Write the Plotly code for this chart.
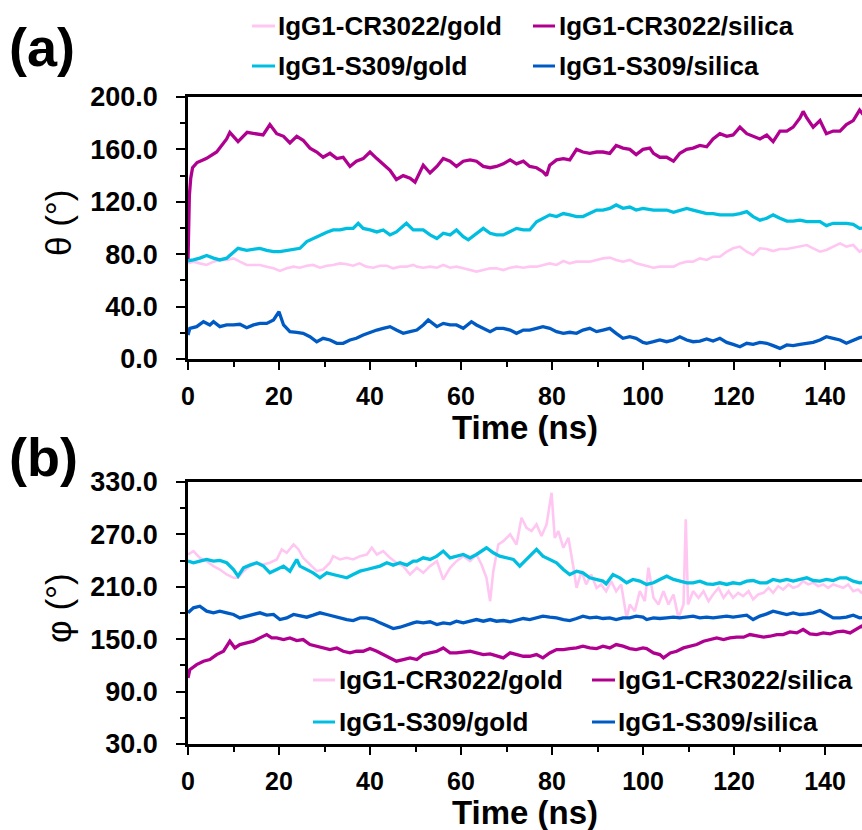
import plotly.graph_objects as go

# ---------------- data: panel (a) theta (deg) vs time (ns) ----------------
t_theta_cr_gold = [0, 1.2, 2.6, 4.1, 5.6, 7, 8.5, 10, 11.4, 12.9,
                   14.4, 15.8, 17.3, 18.8, 20.2, 21.7, 23.2, 24.6, 26.1, 27.5,
                   29, 30.5, 31.9, 33.4, 34.9, 36.3, 37.7, 39.2, 40.7, 42.2,
                   43.7, 45.1, 46.6, 48, 49.5, 50.3, 51.7, 53.2, 54.7, 56.1,
                   57.6, 59, 60.5, 62, 63.4, 64.9, 66.4, 67.8, 69.3, 70.8,
                   72.2, 73.7, 75.1, 76.6, 78, 79.5, 81, 82.5, 83.9, 85.4,
                   86.8, 88.3, 89.8, 91.2, 92.7, 94.1, 95.6, 97.1, 98.5, 100,
                   100.8, 102.3, 103.7, 105.2, 106.7, 108.1, 109.6, 111, 112.5, 114,
                   115.4, 116.9, 118.4, 119.8, 121.3, 122.8, 124.2, 125.7, 127.2, 128.6,
                   130.1, 131.6, 133, 134.5, 136, 137.4, 138.9, 140.3, 141.8, 143.3,
                   144.7, 146.2, 147.6, 148.5]
theta_cr_gold = [73, 74.3, 73, 71.8, 74.3, 75.6, 75.6, 76.8, 74.3, 71.8,
                 71.8, 71.8, 70.5, 69.2, 67.2, 69.2, 70.5, 69.7, 71.2, 71.8,
                 69.7, 71.2, 71.8, 73, 72.3, 71.2, 73, 70.5, 69.7, 71.2,
                 71.2, 69.2, 70.5, 70.5, 71.8, 70.5, 69.7, 70.5, 69.7, 71.8,
                 69.7, 70.5, 69.2, 67.9, 66.7, 67.9, 69.2, 69.2, 67.9, 69.7,
                 70.5, 69.7, 70.5, 70.5, 71.8, 73, 71.8, 74.8, 73, 74.3,
                 74.3, 74.3, 75.6, 76.8, 77.4, 75.6, 74.3, 75.6, 73, 71.8,
                 71.2, 69.7, 70.5, 70.5, 70.5, 73, 74.3, 74.3, 76.8, 75.6,
                 78.1, 78.1, 81.9, 84.5, 85.8, 81.9, 79.4, 84.5, 84, 82.4,
                 84, 84, 85, 85.8, 87, 84.5, 81.9, 83.2, 85.8, 88.3,
                 85.8, 87, 81.9, 84]

t_theta_cr_silica = [0, 0.3, 0.6, 1, 2, 4, 6.3, 8.5, 9.2, 11,
                     13, 15, 16.5, 18, 19.5, 21, 22.4, 23.9, 25.3, 26.8,
                     28.3, 29.7, 31.2, 32.7, 34.1, 35.6, 37, 38.5, 40, 41.5,
                     42.9, 44.4, 45.8, 47.3, 48.8, 49.9, 51.7, 53.2, 54.7, 56.1,
                     57.6, 59, 60.5, 62, 63.4, 64.9, 66.4, 67.8, 69.3, 70.8,
                     72.2, 73.7, 75.1, 76.6, 78, 78.8, 79.5, 81, 82.5, 83.9,
                     85.4, 86.8, 88.3, 89.8, 91.2, 92.7, 94.1, 95.6, 97.1, 98.5,
                     100, 101.5, 102.3, 103.7, 105.2, 106.7, 108.1, 109.6, 111, 112.5,
                     114, 115.4, 116.9, 118.4, 119.8, 121.3, 122.8, 124.2, 125.7, 127.2,
                     128.6, 130.1, 131.6, 133, 134.5, 135.2, 136, 137.4, 138.9, 140.3,
                     141.8, 143.3, 144.7, 146.2, 147.6, 148.5]
theta_cr_silica = [75, 125, 138, 146, 150, 153, 158, 168, 173, 166,
                   173, 172, 171, 179, 172, 170, 165, 170, 167, 161,
                   158, 154, 157, 153, 154, 147, 151, 153, 158, 153,
                   149, 144, 137, 140, 138, 135, 148, 142, 147, 153,
                   151, 147, 151, 152, 151, 147, 146, 147, 149, 152,
                   149, 151, 147, 146, 143, 140, 148, 152, 153, 152,
                   160, 158, 157, 158, 158, 157, 163, 161, 160, 156,
                   160, 161, 157, 154, 154, 151, 157, 160, 161, 163,
                   162, 168, 172, 170, 171, 177, 172, 170, 168, 171,
                   166, 174, 174, 177, 184, 189, 184, 177, 182, 172,
                   174, 174, 179, 182, 190, 186]

t_theta_s309_gold = [0, 1.2, 2.6, 4.1, 5.6, 7, 8.5, 10, 11, 12.9,
                     14.4, 15.8, 17.3, 18.8, 20.2, 21.7, 23.2, 24.6, 26.1, 27.5,
                     29, 30.5, 31.9, 33.4, 34.9, 36.3, 37.4, 38.5, 40, 41.5,
                     42.9, 44.4, 45.8, 48, 49.5, 51.7, 53.2, 54.7, 56.1, 57.6,
                     59, 60.5, 61.6, 63.4, 64.9, 66.4, 67.8, 69.3, 70.8, 72.2,
                     73.7, 75.1, 76.6, 78, 79.5, 81, 82.5, 83.9, 85.4, 86.8,
                     88.3, 89.8, 91.2, 92.7, 94.1, 95.6, 97.1, 98.5, 100, 100.8,
                     102.3, 103.7, 105.2, 106.7, 108.1, 109.6, 111, 112.5, 114, 115.4,
                     116.9, 118.4, 119.8, 121.3, 122.8, 124.2, 125.7, 127.2, 128.6, 130.1,
                     131.6, 133, 134.5, 136, 137.4, 138.9, 140.3, 141.8, 143.3, 144.7,
                     146.2, 147.6, 148.5]
theta_s309_gold = [75, 75.6, 77, 79, 77, 75.6, 77, 82, 84.5, 83,
                   84, 84.5, 83, 82, 82, 83, 84, 84.5, 89.6, 92,
                   94.7, 96.7, 98.5, 98.5, 99.7, 99.7, 103.6, 99.7, 98.5, 97,
                   98.5, 94.7, 97, 103.6, 98.5, 98.5, 94.7, 92, 96, 94.7,
                   98.5, 93.4, 91, 96, 99.7, 96, 94.7, 94.7, 97, 99.7,
                   98.5, 98.5, 104.8, 107, 110, 108.7, 111, 110, 108.7, 108.7,
                   111, 113.7, 113.7, 115, 117.6, 115, 116, 113.7, 115, 114.5,
                   113.7, 113.7, 113.7, 112, 113.7, 115, 113.7, 112.5, 111, 111,
                   110, 110, 110, 111, 112.5, 108.7, 106, 107.4, 110, 107.4,
                   105.3, 105.3, 106, 104.8, 104.8, 104.8, 101.8, 103.6, 103.6, 103.6,
                   102.8, 99.7, 100]

t_theta_s309_silica = [0, 0.4, 1.9, 3.4, 4.8, 5.6, 7, 8.5, 10, 11.4,
                       12.9, 14.4, 15.8, 17.3, 18.8, 20, 21, 22.4, 23.9, 25.3,
                       26.8, 28.3, 29.7, 31.2, 32.7, 34.1, 35.6, 37, 38.5, 40,
                       41.5, 42.9, 44.4, 45.8, 47.3, 48.8, 50.3, 51.7, 52.8, 54.7,
                       56.1, 57.6, 59, 60.5, 62.3, 63.4, 64.9, 66.4, 67.8, 69.3,
                       70.8, 72.2, 73.7, 75.1, 76.6, 78, 79.5, 81, 82.5, 83.9,
                       85.4, 86.8, 88.3, 89.8, 91.2, 92.7, 94.1, 95.6, 97.1, 98.5,
                       100, 100.8, 102.3, 103.7, 105.2, 106.7, 108.1, 109.6, 111, 112.5,
                       114, 115.4, 116.9, 118.4, 119.8, 121.3, 122.8, 124.2, 125.7, 127.2,
                       128.6, 130.1, 131.6, 133, 134.5, 136, 137.4, 138.9, 140.3, 141.8,
                       143.3, 144.7, 146.2, 147.6, 148.5]
theta_s309_silica = [18.3, 23.4, 24.7, 28.5, 26, 28.5, 24.7, 26, 26, 26.5,
                     23.9, 26, 27.2, 27.2, 29.8, 36.1, 26, 20.9, 20.4, 19.6,
                     17, 13.2, 15.8, 14.5, 12, 12, 14.5, 15.8, 18.3, 20.4,
                     22.1, 23.4, 24.7, 22.1, 19.6, 20.9, 22.1, 26, 29.8, 24.7,
                     27.2, 26, 26, 23.4, 28.5, 26, 23.4, 20.9, 23.4, 23.4,
                     22.1, 19.6, 22.1, 22.1, 23.4, 24.7, 23.4, 20.9, 19.6, 20.4,
                     19.6, 22.1, 23.4, 20.9, 22.1, 23.4, 19.6, 15.8, 17, 15.8,
                     12.7, 12, 13.2, 14.5, 13.2, 14.5, 17, 14.5, 13.2, 13.7,
                     15.3, 13.7, 15.8, 12.7, 11.2, 9.4, 12, 11.2, 12.7, 12,
                     10.2, 8.1, 10.7, 10.2, 11.2, 12, 12.7, 14.5, 17, 15.8,
                     14.5, 12, 14.5, 16.3, 17]

# ---------------- data: panel (b) phi (deg) vs time (ns) ----------------
t_phi_cr_gold = [0, 1.2, 2.6, 4.1, 5.6, 7, 8.5, 10, 11, 12.2,
                 13.6, 15.1, 16.6, 18, 19.5, 20.6, 21.7, 23.2, 24.3, 25.3,
                 26.8, 28.3, 29.7, 31.2, 31.9, 33.4, 34.9, 36.3, 37.8, 39.3,
                 40.4, 41.5, 42.9, 44.4, 45.8, 47.3, 48.8, 50.3, 51.7, 53.2,
                 54.7, 56.1, 57.6, 59, 60.5, 62, 63.4, 64.5, 65.6, 66.4,
                 67.1, 68.2, 69.3, 70.8, 72.2, 73.3, 74.4, 75.5, 76.6, 77.7,
                 78.8, 79.9, 80.6, 81.4, 82.5, 83.6, 84.6, 85.4, 86.5, 87.5,
                 88.6, 89.8, 90.8, 91.9, 93, 94.1, 95.2, 96.4, 97.1, 98.2,
                 99.3, 100.4, 101.2, 102.3, 103.4, 104.5, 105.6, 106.7, 107.8, 108.9,
                 109.4, 109.9, 111, 112.2, 113.3, 114.4, 115.4, 116.6, 117.7, 118.8,
                 119.8, 120.9, 122, 123.2, 124.2, 125.3, 126.5, 127.6, 128.6, 129.7,
                 130.8, 132, 133, 134.1, 135.2, 136.3, 137.4, 138.5, 139.6, 140.7,
                 141.8, 142.9, 144, 145.1, 146.2, 147.3, 148, 148.5]
phi_cr_gold = [247, 250.9, 243.2, 239.4, 233.7, 229.8, 224.1, 220.3, 220.3, 227.9,
               233.7, 237.5, 235.6, 237.5, 241.3, 252.8, 249, 258.5, 252.8, 243.2,
               235.6, 227.9, 229.8, 237.5, 245.1, 241.3, 243.2, 241.3, 245.1, 247,
               254.7, 247, 250.9, 243.2, 237.5, 233.7, 224.1, 231.8, 226, 233.7,
               239.4, 218.4, 231.8, 239.4, 245.1, 239.4, 247, 235.6, 220.3, 193.5,
               227.9, 258.5, 262.3, 270, 258.5, 289.1, 277.6, 273.8, 281.4, 268.1,
               281.4, 317.7, 266.1, 273.8, 254.7, 266.1, 235.6, 208.8, 227.9, 212.7,
               224.1, 208.8, 212.7, 205, 216.5, 205, 212.7, 174.4, 189.7, 182.1,
               205, 193.5, 231.8, 197.4, 189.7, 205, 189.7, 201.2, 174.4, 189.7,
               287.2, 189.7, 205, 197.4, 205, 193.5, 201.2, 208.8, 197.4, 205,
               197.4, 203.1, 199.3, 205, 195.5, 201.2, 203.1, 208.8, 203.1, 210.7,
               206.9, 212.7, 208.8, 210.7, 216.5, 212.7, 214.6, 210.7, 212.7, 208.8,
               212.7, 210.7, 208.8, 212.7, 205, 206.9, 203.1, 204]

t_phi_cr_silica = [0, 0.4, 1.9, 3.4, 4.8, 6.3, 7.8, 9.2, 10.3, 11.4,
                   12.9, 14.4, 15.8, 17.3, 18.4, 19.5, 21, 22.4, 23.9, 25.3,
                   26.8, 28.3, 29.7, 31.2, 32.7, 34.1, 35.6, 37, 38.5, 40,
                   41.5, 42.9, 44.4, 45.8, 47.3, 48.8, 50.3, 51.7, 53.2, 54.7,
                   56.1, 57.6, 59, 60.5, 62, 63.4, 64.9, 66.4, 67.8, 69.3,
                   70.8, 72.2, 73.7, 75.1, 76.6, 78, 79.5, 81, 82.5, 83.9,
                   85.4, 86.8, 88.3, 89.8, 91.2, 92.7, 94.1, 95.6, 97.1, 98.5,
                   100, 100.8, 102.3, 103.7, 104.5, 106, 107.4, 108.9, 110.3, 111.8,
                   113.3, 114.7, 116.2, 117.7, 119.1, 120.6, 122.1, 123.5, 125, 126.5,
                   127.9, 129.4, 130.8, 132.3, 133.8, 135.2, 136.7, 138.2, 139.6, 141.1,
                   142.5, 144, 145.5, 146.9, 148, 148.5]
phi_cr_silica = [105.7, 115.2, 120.9, 124.8, 126.7, 132.4, 136.2, 147.7, 140, 143.9,
                 145.8, 147.7, 151.5, 155.3, 151.5, 151.5, 149.6, 151.5, 148.5, 149.6,
                 143.9, 142, 140, 138.1, 140, 136.2, 134.3, 136.2, 136.2, 139.3,
                 136.2, 132.4, 128.6, 124.8, 126.7, 128.6, 126.7, 132.4, 134.3, 136.2,
                 140, 134.3, 134.3, 135.5, 136.2, 134.3, 132.4, 133.2, 130.5, 128.6,
                 134.3, 132.4, 130.5, 130.5, 132.4, 128.6, 134.3, 138.1, 138.1, 139.3,
                 140, 142, 140, 139.3, 142, 140, 143.9, 142, 139.3, 138.1,
                 140, 139.3, 134.3, 132.4, 128.6, 134.3, 136.2, 140, 142, 143.9,
                 147.7, 149.6, 151.5, 149.6, 151.5, 152.3, 152.3, 155.3, 153.4, 152.3,
                 153.4, 155.3, 155.3, 158.4, 157.2, 161.1, 156.1, 155.3, 157.2, 156.1,
                 158.4, 159.2, 157.2, 161.1, 164.9, 163]

t_phi_s309_gold = [0, 1.2, 2.6, 4.1, 5.6, 7, 8.5, 10, 11, 12.2,
                   13.6, 15.1, 16.6, 18, 19.5, 21, 22.4, 23.9, 24.6, 26.1,
                   27.5, 29, 30.5, 31.9, 33.4, 34.9, 36.3, 37.8, 39.3, 40.7,
                   42.2, 43.7, 45.1, 46.6, 48.1, 49.5, 50.3, 51.7, 53.2, 54.7,
                   56.1, 57.6, 59, 60.5, 62, 63.4, 65.6, 67.1, 68.5, 70,
                   71.5, 72.9, 74.4, 75.5, 76.6, 78, 79.5, 81, 82.5, 83.9,
                   85.4, 86.8, 88.3, 89.8, 91.2, 91.9, 93.4, 94.9, 96.4, 97.8,
                   99.3, 100.8, 102.3, 103.7, 105.2, 106.7, 108.1, 109.6, 111, 112.5,
                   114, 115.4, 116.9, 118.4, 119.8, 121.3, 122.8, 124.2, 125.7, 127.2,
                   128.6, 130.1, 131.6, 133, 134.5, 136, 137.4, 138.9, 140.3, 141.8,
                   143.3, 144.7, 146.2, 147.6, 148.5]
phi_s309_gold = [239.4, 237.5, 239.4, 241.3, 239.4, 240.2, 237.5, 229.8, 222.2, 231.8,
                 234.8, 237.5, 233.7, 226, 229.8, 233.7, 227.9, 241.3, 233.7, 229.8,
                 226, 220.3, 226, 224.1, 222.2, 220.3, 224.1, 227.9, 229.8, 231.8,
                 233.7, 237.5, 234.8, 237.5, 234.8, 239.4, 239.4, 243.2, 241.3, 245.1,
                 250.9, 243.2, 245.1, 247, 243.2, 247, 254.7, 249, 245.1, 243.2,
                 241.3, 233.7, 241.3, 247, 252.8, 245.1, 241.3, 237.5, 229.8, 224.1,
                 227.9, 226, 220.3, 218.4, 216.5, 213.4, 224.1, 220.3, 214.6, 218.4,
                 216.5, 212.7, 214.6, 218.4, 222.2, 218.4, 216.5, 214.6, 214.6, 216.5,
                 213.4, 212.7, 214.6, 212.7, 214.6, 213.4, 216.5, 217.2, 214.6, 214.6,
                 218.4, 216.5, 218.4, 216.5, 218.4, 220.3, 217.2, 216.5, 218.4, 217.2,
                 220.3, 220.3, 216.5, 214.6, 215]

t_phi_s309_silica = [0, 1.2, 2.6, 4.1, 5.6, 7, 8.5, 10, 11.4, 12.9,
                     14.4, 15.8, 17.3, 18.8, 20.2, 21.7, 23.2, 24.6, 26.1, 27.5,
                     29, 30.5, 31.9, 33.4, 34.9, 36.3, 37.8, 39.3, 40.7, 42.2,
                     43.7, 45.1, 46.6, 48.1, 49.5, 50.3, 51.7, 53.2, 54.7, 56.1,
                     57.6, 59, 60.5, 62, 63.4, 64.9, 66.4, 67.8, 69.3, 70.8,
                     72.2, 73.7, 75.1, 76.6, 78, 79.5, 81, 82.5, 83.9, 85.4,
                     86.8, 88.3, 89.8, 91.2, 92.7, 94.1, 95.6, 97.1, 98.5, 100,
                     100.8, 102.3, 103.7, 105.2, 106.7, 108.1, 109.6, 111, 112.5, 114,
                     115.4, 116.9, 118.4, 119.8, 121.3, 122.8, 124.2, 125.7, 127.2, 128.6,
                     130.1, 131.6, 133, 134.5, 136, 137.4, 138.9, 140.3, 141.8, 143.3,
                     144.7, 146.2, 147.6, 148.5]
phi_s309_silica = [180.2, 185.9, 187.8, 182.1, 180.2, 182.1, 180.2, 178.3, 174.4, 176.4,
                   178.3, 180.2, 177.5, 178.3, 172.5, 174.4, 178.3, 176.4, 175.2, 177.5,
                   180.2, 178.3, 176.4, 174.4, 172.5, 171.4, 174.4, 174.4, 172.5, 168.7,
                   164.9, 162.2, 163.7, 166.8, 168.7, 169.9, 168.7, 169.9, 166.8, 168.7,
                   167.6, 170.6, 168.7, 170.6, 172.5, 170.6, 172.5, 170.6, 171.4, 169.9,
                   171.4, 173.7, 172.5, 174.4, 176.4, 175.2, 174.4, 172.5, 171.4, 173.7,
                   176.4, 174.4, 175.2, 173.7, 174.4, 172.5, 174.4, 174.4, 176.4, 175.2,
                   172.5, 174.4, 173.7, 174.4, 175.2, 174.4, 175.2, 176.4, 174.4, 175.2,
                   174.4, 175.2, 176.4, 175.2, 176.4, 177.5, 172.5, 176.4, 179, 182.1,
                   180.2, 178.3, 180.2, 178.3, 179, 180.2, 182.8, 178.3, 174.4, 174.4,
                   175.2, 177.5, 174.4, 175]

series_names = ["IgG1-CR3022/gold", "IgG1-CR3022/silica", "IgG1-S309/gold", "IgG1-S309/silica"]
theta_ticks = [0, 40, 80, 120, 160, 200]
phi_ticks = [30, 90, 150, 210, 270, 330]
time_ticks = [0, 20, 40, 60, 80, 100, 120, 140]

# ---------------- styling ----------------
C_PINK, C_MAG, C_CYAN, C_BLUE = "#FFC6F2", "#B0008F", "#00BEE0", "#005AC4"
colors = [C_PINK, C_MAG, C_CYAN, C_BLUE]
widths = [2.6, 3.3, 3.3, 3.3]
FONT = "Liberation Sans, Arial, sans-serif"

W, H = 862, 830
ML, MR, MT, MB = 188, 0, 97, 86
PW, PH = W - ML - MR, H - MT - MB


def px(x):
    return (x - ML) / PW


def py(y):
    return (H - MB - y) / PH


fig = go.Figure()

theta_sets = [(t_theta_cr_gold, theta_cr_gold), (t_theta_cr_silica, theta_cr_silica),
              (t_theta_s309_gold, theta_s309_gold), (t_theta_s309_silica, theta_s309_silica)]
phi_sets = [(t_phi_cr_gold, phi_cr_gold), (t_phi_cr_silica, phi_cr_silica),
            (t_phi_s309_gold, phi_s309_gold), (t_phi_s309_silica, phi_s309_silica)]

for (tx, vy), name, col, lw in zip(theta_sets, series_names, colors, widths):
    fig.add_trace(go.Scatter(x=tx, y=vy, mode="lines", name=name, showlegend=False,
                             line=dict(color=col, width=lw), xaxis="x", yaxis="y"))
for (tx, vy), name, col, lw in zip(phi_sets, series_names, colors, widths):
    fig.add_trace(go.Scatter(x=tx, y=vy, mode="lines", name=name, showlegend=False,
                             line=dict(color=col, width=lw), xaxis="x2", yaxis="y2"))

x_range = [0, (W - ML) / 4.55]

xcommon = dict(range=x_range, tickvals=time_ticks, showline=True, linecolor="black", linewidth=2.5,
               mirror=True, ticks="outside", ticklen=8, tickwidth=2, tickcolor="black",
               minor=dict(ticks="outside", dtick=10, tick0=0, ticklen=5, tickwidth=2, tickcolor="black"),
               showgrid=False, zeroline=False, ticklabelstandoff=5,
               tickfont=dict(family=FONT, size=25, color="black", weight="bold"))
ycommon = dict(showline=True, linecolor="black", linewidth=2.5, mirror=False,
               ticks="outside", ticklen=9, tickwidth=2, tickcolor="black",
               showgrid=False, zeroline=False, tickformat=".1f", ticklabelstandoff=13,
               tickfont=dict(family=FONT, size=27, color="black", weight="bold"))

fig.update_layout(
    width=W, height=H, margin=dict(l=ML, r=MR, t=MT, b=MB),
    paper_bgcolor="white", plot_bgcolor="white", showlegend=False,
    font=dict(family=FONT, color="black"),
    xaxis=dict(xcommon, anchor="y", domain=[0, 1]),
    yaxis=dict(ycommon, anchor="x", domain=[py(359), py(97)], range=[0, 200], tickvals=theta_ticks,
               minor=dict(ticks="outside", dtick=20, tick0=0, ticklen=5, tickwidth=2, tickcolor="black")),
    xaxis2=dict(xcommon, anchor="y2", domain=[0, 1]),
    yaxis2=dict(ycommon, anchor="x2", domain=[py(744), py(482)], range=[30, 330], tickvals=phi_ticks,
                minor=dict(ticks="outside", dtick=30, tick0=30, ticklen=5, tickwidth=2, tickcolor="black")),
)

ann = []
shapes = []


def text(x, y, s, size, bold=True, xanchor="left", angle=0):
    ann.append(dict(x=px(x), y=py(y), xref="paper", yref="paper", text=s, showarrow=False,
                    xanchor=xanchor, yanchor="middle", textangle=angle, borderpad=0,
                    font=dict(family=FONT, size=size, color="black", weight="bold" if bold else "normal")))


# panel labels
text(8, 47, "(a)", 54)
text(8, 457, "(b)", 54)
# axis titles
text(58, 223, "θ (°)", 35, bold=False, xanchor="center", angle=-90)
text(58, 608, "φ (°)", 35, bold=False, xanchor="center", angle=-90)
text(525, 428, "Time (ns)", 33, xanchor="center")
text(525, 812, "Time (ns)", 33, xanchor="center")

# legends (line sample + label)
legend_layouts = [
    # (line x0, line x1, text x, row y) for each series, top legend
    [(252, 275, 277, 26), (533, 555, 558, 26), (252, 275, 277, 66), (533, 555, 558, 66)],
    # bottom legend
    [(313, 335, 338, 680), (592, 615, 617, 680), (313, 335, 338, 722), (592, 615, 617, 722)],
]
for lay in legend_layouts:
    for (x0, x1, xt, yr), name, col in zip(lay, series_names, colors):
        shapes.append(dict(type="line", xref="paper", yref="paper", x0=px(x0), x1=px(x1),
                           y0=py(yr), y1=py(yr), line=dict(color=col, width=3)))
        text(xt, yr, name, 26)

fig.update_layout(annotations=ann, shapes=shapes)

fig.write_html("out.html", config={"displayModeBar": False},
               post_script="document.body.style.margin='0px';")
